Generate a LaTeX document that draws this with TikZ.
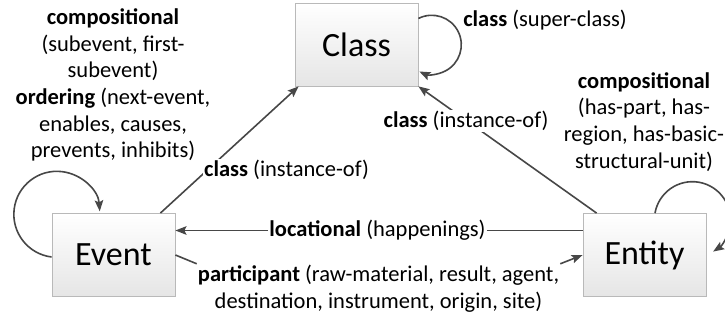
\documentclass[tikz,border=0pt]{standalone}
\usepackage{fontspec}
\setmainfont{Carlito}
\usetikzlibrary{arrows.meta,calc}
\begin{document}
\begin{tikzpicture}[x=1pt,y=1pt,
  box/.style={draw=gray!55, line width=0.8pt, top color=white, bottom color=gray!20,
    minimum width=123pt, minimum height=83pt, inner sep=0pt, font=\fontsize{34}{40}\selectfont},
  lbl/.style={font=\fontsize{22.5}{26.7}\selectfont, align=center, inner sep=1pt},
  wlbl/.style={lbl, fill=white},
  conn/.style={draw=black!72, line width=1.6pt},
  arr/.style={conn, -{Stealth[length=11pt,width=8.5pt,inset=2pt]}},
]
\useasboundingbox (0,0) rectangle (725,320);

% boxes
\node[box] (class)  at (356.5,275.5) {Class};
\node[box] (event)  at (113.5,65) {Event};
\node[box] (entity) at (644.5,65) {Entity};

% labels
\node[lbl] (loc)  at (377.5,89.5) {\textbf{locational} (happenings)};
\node[lbl] (part) at (378.5,31.5) {\textbf{participant} (raw-material, result, agent,\\destination, instrument, origin, site)};
\node[lbl] (sup)  at (545,300) {\textbf{class} (super-class)};

% connectors
\draw[arr] ([xshift=-15]event.north east) -- ([xshift=4]class.south west);
\draw[arr] ([xshift=14]entity.north west) -- (class.south east);
\draw[arr] (loc.west) -- (loc.west -| event.east);
\draw[conn] (loc.east) -- (loc.east -| entity.west);
\draw[conn] (event.east) -- (part.north west);
\draw[arr] (part.north east) -- (entity.west);

% self loops
\draw[arr] ([yshift=-2]event.west) arc[start angle=263, end angle=4, radius=43];
\draw[arr] ([yshift=26]class.east) arc[start angle=117, end angle=-115, radius=29.5];
\draw[arr] ([xshift=10.5]entity.north) arc[start angle=170, end angle=-57, radius=38];

% labels over lines
\node[wlbl] (insl) at (286.5,150) {\textbf{class} (instance-of)};
\node[wlbl] (insr) at (466,199) {\textbf{class} (instance-of)};

% text blocks
\node[lbl] (evcomp) at (113,235) {\textbf{compositional}\\(subevent, first-\\subevent)\\\textbf{ordering} (next-event,\\enables, causes,\\prevents, inhibits)};
\node[lbl] (encomp) at (644,198) {\textbf{compositional}\\(has-part, has-\\region, has-basic-\\structural-unit)};
\end{tikzpicture}
\end{document}
